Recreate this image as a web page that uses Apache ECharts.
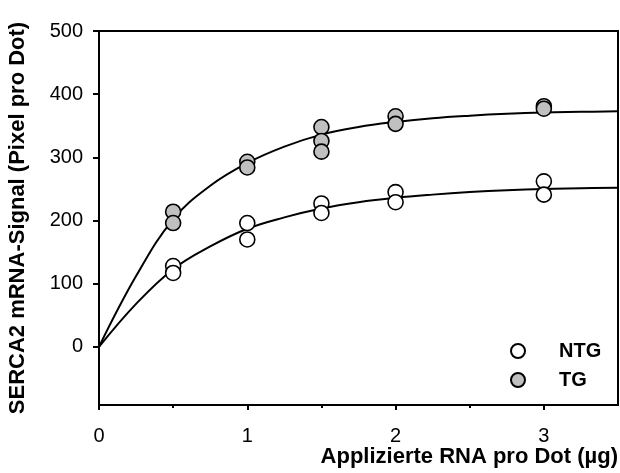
<!DOCTYPE html>
<html>
<head>
<meta charset="utf-8">
<script src="https://cdn.jsdelivr.net/npm/echarts@6/dist/echarts.min.js"></script>
<style>
  html, body { margin: 0; padding: 0; background: #fff; }
  #chart { width: 620px; height: 473px; }
</style>
</head>
<body>
<div id="chart"></div>
<script>
  // Messpunkte
  const ntgDose = [0.5, 0.5, 1, 1, 1.5, 1.5, 2, 2, 3, 3]
  const ntgSignal = [128, 117, 196, 170, 227, 212, 245, 229, 262, 241]
  const tgDose = [0.5, 0.5, 1, 1, 1.5, 1.5, 1.5, 2, 2, 3, 3]
  const tgSignal = [214, 196, 293, 284, 348, 326, 309, 365, 353, 381, 377]

  // Kurvenverlauf
  const curveDose = [0, 0.25, 0.5, 0.75, 1, 1.25, 1.5, 1.75, 2, 2.25, 2.5, 2.75, 3, 3.25, 3.5]
  const ntgCurve = [0, 68, 123, 159, 187, 205, 219, 229, 236, 241, 245, 248, 250, 251, 252]
  const tgCurve = [0, 112, 202, 255, 291, 317, 336, 348, 356, 362, 366, 369, 371, 372, 373]

  const xTicks = [0, 1, 2, 3]
  const xMinorTicks = [0.5, 1.5, 2.5]
  const yTicks = [0, 100, 200, 300, 400, 500]

  const font = 'Liberation Sans, Arial, sans-serif'
  const zip = (xs, ys) => xs.map((x, i) => [x, ys[i]])

  const chart = echarts.init(document.getElementById('chart'))
  const option = {
    animation: false,
    grid: {
      left: 99,
      right: 2,
      top: 31,
      bottom: 68,
      outerBoundsMode: 'none',
      containLabel: false,
      show: true,
      borderColor: '#000',
      borderWidth: 2
    },
    legend: {
      orient: 'vertical',
      left: 505,
      top: 336,
      itemWidth: 72,
      itemHeight: 14,
      itemGap: 9,
      data: ['NTG', 'TG'],
      textStyle: {
        fontFamily: font,
        fontSize: 20,
        fontWeight: 'bold',
        color: '#000',
        lineHeight: 20
      }
    },
    graphic: [
      {
        type: 'text',
        right: 2,
        top: 446,
        style: {
          text: 'Applizierte RNA pro Dot (µg)',
          font: 'bold 22px ' + font,
          fill: '#000'
        }
      }
    ],
    xAxis: [
      {
        type: 'value',
        min: 0,
        max: 3.5,
        splitLine: { show: false },
        axisLine: { show: true, onZero: false, lineStyle: { color: '#000', width: 2 } },
        axisTick: { show: true, customValues: xTicks, length: 5, lineStyle: { color: '#000', width: 2 } },
        axisLabel: { customValues: xTicks, fontFamily: font, fontSize: 20, color: '#000', margin: 21 }
      },
      {
        type: 'value',
        min: 0,
        max: 3.5,
        position: 'bottom',
        splitLine: { show: false },
        axisLine: { show: false, onZero: false },
        axisTick: { show: true, customValues: xMinorTicks, length: 3, lineStyle: { color: '#000', width: 2 } },
        axisLabel: { show: false }
      }
    ],
    yAxis: {
      type: 'value',
      min: -92,
      max: 500,
      name: 'SERCA2 mRNA-Signal (Pixel pro Dot)',
      nameLocation: 'middle',
      nameGap: 70,
      nameTextStyle: { fontFamily: font, fontSize: 22, fontWeight: 'bold', color: '#000' },
      splitLine: { show: false },
      axisLine: { show: true, onZero: false, lineStyle: { color: '#000', width: 2 } },
      axisTick: { show: true, customValues: yTicks, length: 6, lineStyle: { color: '#000', width: 2 } },
      axisLabel: { customValues: yTicks, fontFamily: font, fontSize: 20, color: '#000', margin: 16 }
    },
    series: [
      {
        name: 'NTG-Kurve',
        type: 'line',
        smooth: 0.4,
        showSymbol: false,
        data: zip(curveDose, ntgCurve),
        lineStyle: { color: '#000', width: 2 },
        z: 2
      },
      {
        name: 'TG-Kurve',
        type: 'line',
        smooth: 0.4,
        showSymbol: false,
        data: zip(curveDose, tgCurve),
        lineStyle: { color: '#000', width: 2 },
        z: 2
      },
      {
        name: 'NTG',
        type: 'scatter',
        symbol: 'circle',
        symbolSize: 15,
        data: zip(ntgDose, ntgSignal),
        itemStyle: { color: '#fff', borderColor: '#000', borderWidth: 1.6, opacity: 1 },
        z: 3
      },
      {
        name: 'TG',
        type: 'scatter',
        symbol: 'circle',
        symbolSize: 15,
        data: zip(tgDose, tgSignal),
        itemStyle: { color: '#c0c0c0', borderColor: '#000', borderWidth: 1.6, opacity: 1 },
        z: 3
      }
    ]
  }
  chart.setOption(option)
</script>
</body>
</html>
